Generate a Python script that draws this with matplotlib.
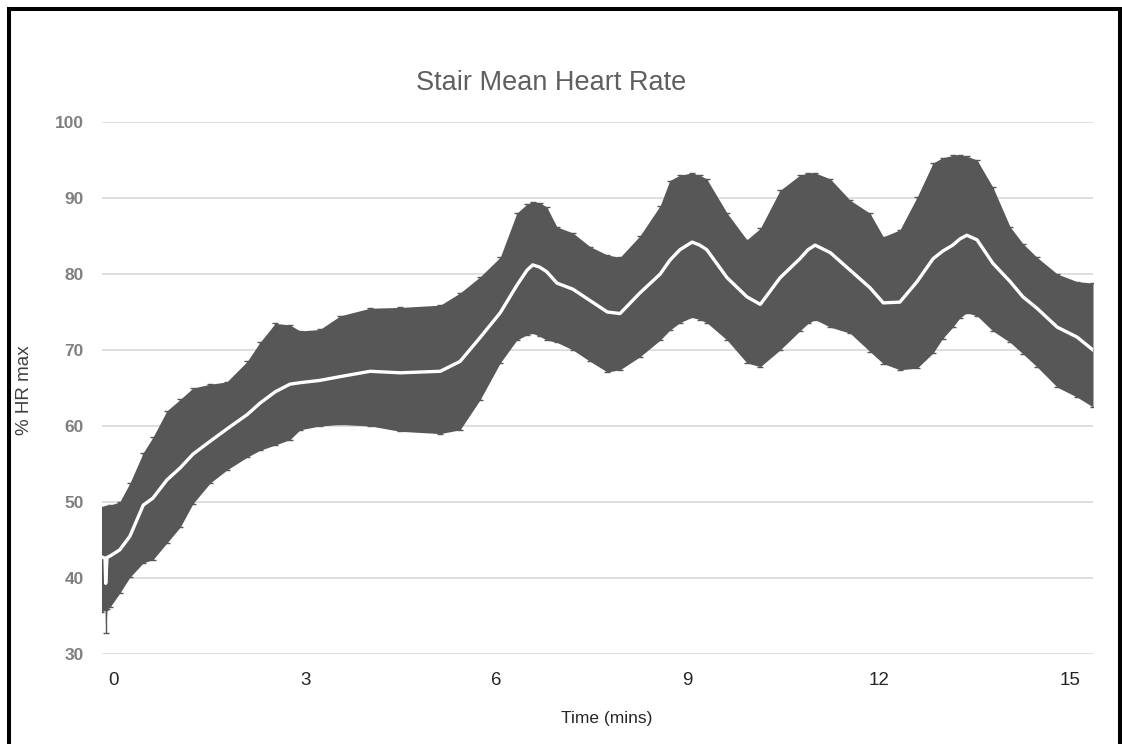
import numpy as np
import matplotlib
matplotlib.use("Agg")
import matplotlib.pyplot as plt
from matplotlib.patches import Rectangle

plt.rcParams['font.family'] = ['Liberation Sans', 'DejaVu Sans']

# time (mins) of the read-off points
time_min = [-0.20, -0.14, -0.13, -0.11, -0.06, 0.09, 0.25, 0.46, 0.61, 0.83,
            1.04, 1.24, 1.51, 1.77, 2.09, 2.29, 2.53, 2.76, 2.92, 3.23,
            3.55, 4.02, 4.49, 5.12, 5.43, 5.74, 6.06, 6.32, 6.48, 6.57,
            6.68, 6.79, 6.95, 7.20, 7.47, 7.74, 7.94, 8.25, 8.57, 8.72,
            8.88, 9.07, 9.19, 9.30, 9.62, 9.93, 10.14, 10.45, 10.76, 10.89,
            11.00, 11.24, 11.55, 11.86, 12.07, 12.33, 12.60, 12.85, 13.00, 13.16,
            13.27, 13.38, 13.54, 13.79, 14.06, 14.26, 14.48, 14.80, 15.11, 15.36]

# mean % HR max
mean_hr = [42.8, 42.6, 39.3, 42.7, 42.9, 43.7, 45.5, 49.6, 50.5, 52.9,
           54.5, 56.3, 58.0, 59.6, 61.5, 63.0, 64.5, 65.5, 65.7, 66.0,
           66.5, 67.2, 67.0, 67.2, 68.5, 71.6, 74.9, 78.5, 80.5, 81.2,
           80.9, 80.3, 78.8, 78.0, 76.5, 75.0, 74.8, 77.5, 80.0, 81.8,
           83.2, 84.2, 83.8, 83.2, 79.5, 77.0, 76.0, 79.5, 82.0, 83.2,
           83.8, 82.8, 80.5, 78.2, 76.2, 76.3, 79.0, 82.0, 83.0, 83.8,
           84.6, 85.1, 84.5, 81.4, 79.0, 77.0, 75.5, 73.0, 71.7, 70.0]

# top of error bars
upper_hr = [49.3, 49.3, 49.4, 49.5, 49.6, 50.0, 52.5, 56.5, 58.5, 62.0,
            63.5, 65.0, 65.5, 65.8, 68.5, 71.0, 73.5, 73.3, 72.5, 72.7,
            74.5, 75.5, 75.6, 75.9, 77.5, 79.6, 82.2, 88.0, 89.2, 89.5,
            89.4, 88.8, 86.2, 85.4, 83.6, 82.5, 82.2, 85.0, 89.0, 92.3,
            93.0, 93.3, 93.0, 92.5, 88.0, 84.5, 86.0, 91.0, 93.0, 93.3,
            93.3, 92.5, 89.7, 88.0, 84.9, 85.8, 90.1, 94.6, 95.3, 95.6,
            95.7, 95.5, 95.0, 91.4, 86.2, 84.0, 82.2, 80.0, 79.0, 78.8]

# bottom of error bars
lower_hr = [35.5, 35.8, 32.8, 35.9, 36.2, 38.0, 40.1, 42.0, 42.4, 44.6,
            46.7, 49.8, 52.5, 54.2, 55.9, 56.8, 57.5, 58.2, 59.5, 60.0,
            60.2, 60.0, 59.3, 59.0, 59.5, 63.4, 68.3, 71.3, 72.0, 72.2,
            71.8, 71.3, 71.0, 70.0, 68.5, 67.1, 67.4, 69.1, 71.3, 72.6,
            73.6, 74.3, 74.0, 73.6, 71.3, 68.3, 67.8, 70.0, 72.5, 73.5,
            74.0, 73.0, 72.2, 69.8, 68.2, 67.4, 67.6, 69.6, 71.5, 73.0,
            74.2, 74.9, 74.5, 72.5, 71.0, 69.5, 67.8, 65.1, 63.8, 62.5]

x_ticks = [0, 3, 6, 9, 12, 15]
y_ticks = [30, 40, 50, 60, 70, 80, 90, 100]

t = np.array(time_min)
m = np.array(mean_hr)
up = np.array(upper_hr)
lo = np.array(lower_hr)

band = '#575757'

fig = plt.figure(figsize=(11.22, 7.44), dpi=100)
ax = fig.add_axes([102/1122, 1-654/744, (1093-102)/1122, (654-122)/744])

ax.fill_between(t, lo, up, color=band, lw=0, zorder=2)
ax.errorbar(t, m, yerr=[m-lo, up-m], fmt='none', ecolor=band,
            elinewidth=1, capsize=2.5, capthick=1, zorder=2)
ax.plot(t, m, color='white', lw=2.4, zorder=3)

ax.set_xlim(-0.188, 15.36)
ax.set_ylim(30, 100)
ax.set_xticks(x_ticks)
ax.set_yticks(y_ticks)
ax.grid(axis='y', color='#d9d9d9', lw=1.2, zorder=0)
ax.set_axisbelow(True)
for s in ax.spines.values():
    s.set_visible(False)
ax.tick_params(axis='both', length=0)
ax.tick_params(axis='y', pad=13, labelsize=12.5, labelcolor='#7f7f7f')
ax.tick_params(axis='x', pad=13, labelsize=13.5, labelcolor='#262626')
for lab in ax.get_yticklabels():
    lab.set_fontweight('bold')

fig.text(551/1122, 1-83/744, 'Stair Mean Heart Rate', ha='center', va='center',
         fontsize=19.5, color='#5f5f5f')
fig.text(25/1122, 1-390/744, '% HR max', rotation=90, ha='center', va='center',
         fontsize=13.5, color='#404040')
fig.text(607/1122, 1-718/744, 'Time (mins)', ha='center', va='center',
         fontsize=12.5, color='#262626')

# black frame round the chart (bottom edge lies outside the picture)
fig.patches.append(Rectangle((9/1122, -0.05), (1119.5-9)/1122, 1.05-9/744,
                             transform=fig.transFigure, fill=False,
                             ec='black', lw=2.9))

fig.savefig('out.png', dpi=100)
